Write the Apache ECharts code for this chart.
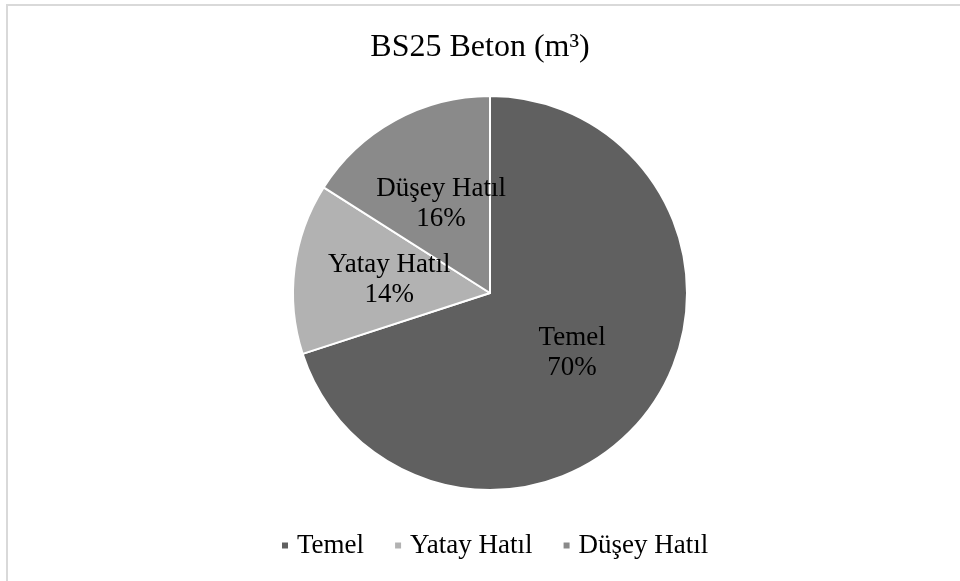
<!DOCTYPE html>
<html>
<head>
<meta charset="utf-8">
<script src="https://cdn.jsdelivr.net/npm/echarts@6/dist/echarts.min.js"></script>
<style>html,body{margin:0;padding:0;background:#fff;}#c{width:960px;height:581px;}</style>
</head>
<body>
<div id="c"></div>
<script>
const categories = ['Temel', 'Yatay Hatıl', 'Düşey Hatıl'];
const values = [70, 14, 16];
const colors = ['#606060', '#b2b2b2', '#8a8a8a'];
const titleText = 'BS25 Beton (m³)';

const chart = echarts.init(document.getElementById('c'));
const FONT = '"Liberation Serif", "Times New Roman", serif';
const data = categories.map((n, i) => ({ name: n, value: values[i], itemStyle: { color: colors[i] } }));
chart.setOption({
  animation: false,
  backgroundColor: '#ffffff',
  graphic: [{
    type: 'rect', shape: { x: 7, y: 5, width: 970, height: 600 },
    style: { fill: 'none', stroke: '#d9d9d9', lineWidth: 2 }, silent: true
  }],
  title: {
    text: titleText, left: 'center', top: 27,
    textStyle: { fontFamily: FONT, fontSize: 32, fontWeight: 'normal', color: '#000' }
  },
  legend: {
    top: 527, left: 275, itemWidth: 8, itemHeight: 8, itemGap: 29,
    icon: 'rect',
    textStyle: { fontFamily: FONT, fontSize: 27, color: '#000', padding: [0, 0, 0, 3] },
    data: categories
  },
  series: [{
    type: 'pie', center: [490, 293], radius: 197, startAngle: 90, clockwise: true,
    itemStyle: { borderColor: '#ffffff', borderWidth: 2 },
    label: {
      show: true, position: 'inside', formatter: '{b}\n{d}%',
      fontFamily: FONT, fontSize: 27, color: '#000', lineHeight: 30
    },
    labelLine: { show: false },
    emphasis: { disabled: true },
    data: data
  }]
});
</script>
</body>
</html>
